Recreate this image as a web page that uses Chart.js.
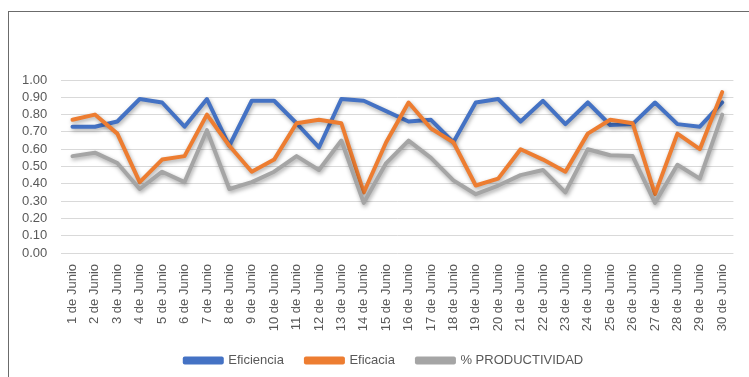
<!DOCTYPE html>
<html>
<head>
<meta charset="utf-8">
<script src="https://cdn.jsdelivr.net/npm/chart.js@4.4.0/dist/chart.umd.min.js"></script>
<style>
    html, body { margin: 0; padding: 0; background: #fff; }
    body { width: 749px; height: 377px; position: relative; overflow: hidden; }
    .frame {
        position: absolute; left: 8px; top: 11px; width: 760px; height: 380px;
        border-top: 1px solid #6b6b6b; border-left: 1px solid #6b6b6b;
    }
    #wrap { position: absolute; left: 0; top: 0; width: 749px; height: 377px; }
</style>
</head>
<body>
<div class="frame"></div>
<div id="wrap"><canvas id="grafico"></canvas></div>
<script>
// Días del mes
const dias = Array.from({ length: 30 }, (_, i) => `${i + 1} de Junio`);

const eficiencia = [0.73, 0.73, 0.76, 0.89, 0.87, 0.73, 0.89, 0.62, 0.88, 0.88,
                    0.75, 0.61, 0.89, 0.88, 0.82, 0.76, 0.77, 0.64, 0.87, 0.89,
                    0.76, 0.88, 0.745, 0.87, 0.74, 0.745, 0.87, 0.745, 0.73, 0.87];

const eficacia = [0.77, 0.80, 0.69, 0.41, 0.54, 0.56, 0.80, 0.62, 0.47, 0.54,
                  0.75, 0.77, 0.75, 0.35, 0.64, 0.87, 0.72, 0.64, 0.39, 0.43,
                  0.60, 0.54, 0.47, 0.69, 0.77, 0.75, 0.34, 0.69, 0.60, 0.93];

const productividad = [0.56, 0.58, 0.52, 0.37, 0.47, 0.41, 0.71, 0.37, 0.41, 0.47,
                       0.56, 0.48, 0.65, 0.29, 0.52, 0.65, 0.55, 0.42, 0.34, 0.39,
                       0.45, 0.48, 0.35, 0.60, 0.565, 0.56, 0.29, 0.51, 0.43, 0.80];

const FUENTE = "'Liberation Sans', Arial, sans-serif";
const GRIS_TEXTO = '#595959';

// sombra suave bajo cada serie
const sombraLineas = {
    id: 'sombraLineas',
    beforeDatasetDraw(chart) {
        const ctx = chart.ctx;
        ctx.save();
        ctx.shadowColor = 'rgba(0, 0, 0, 0.35)';
        ctx.shadowBlur = 4;
        ctx.shadowOffsetX = 1;
        ctx.shadowOffsetY = 2;
    },
    afterDatasetDraw(chart) {
        chart.ctx.restore();
    }
};

// la leyenda va algo desplazada a la derecha del centro del lienzo
const moverLeyenda = {
    id: 'moverLeyenda',
    afterLayout(chart) {
        if (!chart.legend) return;
        chart.legend.left += 11;
        chart.legend.right += 11;
    }
};

function serie(label, data, color, order) {
    return {
        label,
        data,
        borderColor: color,
        backgroundColor: color,
        borderWidth: 4,
        borderJoinStyle: 'round',
        borderCapStyle: 'round',
        pointRadius: 0,
        tension: 0,
        fill: false,
        order
    };
}

new Chart(document.getElementById('grafico'), {
    type: 'line',
    data: {
        labels: dias,
        datasets: [
            serie('Eficiencia', eficiencia, '#4472C4', 2),
            serie('Eficacia', eficacia, '#ED7D31', 1),
            serie('% PRODUCTIVIDAD', productividad, '#A5A5A5', 0)
        ]
    },
    options: {
        responsive: true,
        maintainAspectRatio: false,
        animation: false,
        layout: { padding: { top: 80, left: 8, right: 11, bottom: 0 } },
        plugins: {
            legend: {
                position: 'bottom',
                labels: {
                    color: GRIS_TEXTO,
                    font: { family: FUENTE, size: 13 },
                    boxWidth: 37,
                    boxHeight: 4,
                    padding: 22,
                    sort: (a, b) => a.datasetIndex - b.datasetIndex
                }
            },
            tooltip: { enabled: false }
        },
        scales: {
            x: {
                offset: true,
                grid: { display: false, drawTicks: false },
                border: { display: false },
                ticks: {
                    color: GRIS_TEXTO,
                    font: { family: FUENTE, size: 13 },
                    minRotation: 90,
                    maxRotation: 90,
                    autoSkip: false,
                    padding: 11
                },
                afterFit: (scale) => { scale.height = 79; }
            },
            y: {
                min: 0,
                max: 1,
                grid: { color: '#d9d9d9', lineWidth: 1, drawTicks: false },
                border: { display: false },
                ticks: {
                    stepSize: 0.1,
                    autoSkip: false,
                    color: GRIS_TEXTO,
                    font: { family: FUENTE, size: 13 },
                    padding: 14,
                    callback: v => v.toFixed(2)
                }
            }
        }
    },
    plugins: [sombraLineas, moverLeyenda]
});
</script>
</body>
</html>
